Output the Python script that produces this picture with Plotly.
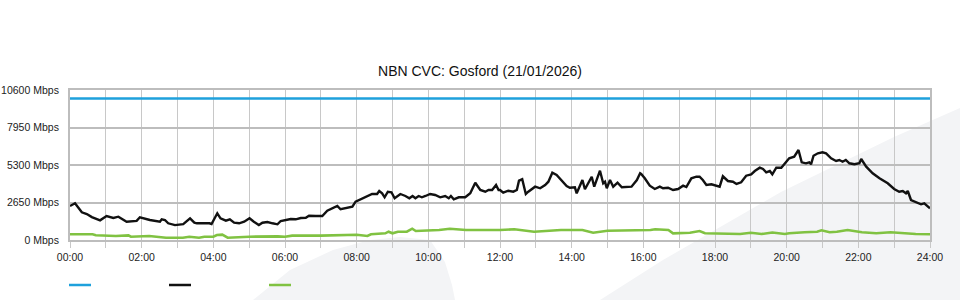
import plotly.graph_objects as go

# ---- data (hours of day, Mbps) ----
capacity_hours = [0, 24]
capacity_mbps = [10000, 10000]

black_hours = [0.00, 0.14, 0.33, 0.47, 0.61, 0.84, 1.02, 1.21, 1.35, 1.58, 1.86, 1.95, 2.23, 2.35, 2.51,
               2.56, 2.65, 2.74, 2.93, 3.16, 3.35, 3.47, 3.54, 3.89, 3.95,
               4.11, 4.20, 4.35, 4.46, 4.58, 4.72, 4.86, 5.01, 5.13, 5.27, 5.37, 5.51, 5.65, 5.79, 5.88,
               6.02, 6.16, 6.30, 6.44, 6.58, 6.67, 6.86, 7.04, 7.18, 7.32, 7.46, 7.55, 7.69, 7.88, 7.97,
               8.07, 8.29, 8.43, 8.57, 8.63, 8.71, 8.78, 8.87, 8.97, 9.06, 9.22, 9.36, 9.47, 9.56, 9.64,
               9.73, 9.82, 9.92, 10.05, 10.19, 10.33, 10.47, 10.57, 10.63, 10.71, 10.85, 11.03, 11.17,
               11.31, 11.45, 11.59, 11.68, 11.78, 11.89, 11.96, 12.00, 12.09, 12.23, 12.37, 12.47, 12.53,
               12.62, 12.72, 12.79, 12.98, 13.12, 13.26, 13.35, 13.46, 13.58, 13.72, 13.86, 13.95, 14.09,
               14.14, 14.30, 14.37, 14.56, 14.63, 14.79, 14.88, 14.93, 14.98, 15.07, 15.16, 15.28, 15.40,
               15.58, 15.67, 15.82, 15.91, 15.94, 16.04, 16.18, 16.32, 16.46, 16.55, 16.69, 16.83, 16.97,
               17.11, 17.20, 17.34, 17.48, 17.57, 17.66, 17.76, 17.90, 18.04, 18.13, 18.22, 18.36, 18.50,
               18.60, 18.73, 18.87, 19.01, 19.11, 19.25, 19.34, 19.43, 19.53, 19.60, 19.71, 19.85, 19.99,
               20.07, 20.21, 20.33, 20.42, 20.54, 20.63, 20.68, 20.75, 20.87, 21.00, 21.10, 21.24, 21.38,
               21.47, 21.56, 21.65, 21.75, 21.89, 22.03, 22.08, 22.22, 22.40, 22.59, 22.82, 23.00, 23.14,
               23.24, 23.33, 23.38, 23.47, 23.61, 23.75, 23.84, 23.94, 24.00]
black_mbps = [2403, 2594, 1960, 1837, 1620, 1390, 1696, 1560, 1647, 1293, 1350, 1604, 1413, 1343, 1293,
              1463, 1413, 1180, 1050, 1120, 1534, 1223, 1180, 1180, 1131,
              1887, 1534, 1364, 1463, 1223, 1180, 1293, 1534, 1293, 1060, 1223, 1272, 1180, 1109, 1343,
              1413, 1484, 1463, 1555, 1576, 1717, 1696, 1696, 2071, 2240, 2403, 2170, 2240, 2353, 2707,
              2827, 3109, 3251, 3251, 3463, 3300, 3018, 3413, 3371, 2947, 3251, 3109, 2947, 3109, 2947,
              3109, 3018, 3109, 3251, 3180, 3018, 3109, 2947, 3109, 2876, 3018, 3018, 3300,
              4049, 3533, 3413, 3533, 3533, 3887, 3533, 3533, 3343, 3484, 3413, 3533, 4191,
              4290, 3251, 3413, 3767, 3654, 3887, 4120, 4756, 4593, 4240, 3816, 3696, 3724,
              3300, 4240, 3583, 4473, 3767, 4897, 4007, 4120, 3654, 4240, 3767, 4049, 3724,
              3724, 3767, 4240, 4714, 4664, 4360, 3837, 3604, 3767, 3654, 3696, 3533, 3604,
              3837, 3745, 4360, 4473, 4473, 4240, 3887, 3936, 3837, 3767, 4502, 4169, 4120,
              3957, 4078, 4544, 4643, 4876, 5109, 5017, 4784, 4876, 4643, 5109, 5109, 5533,
              5774, 5887, 6360, 5491, 5420, 5491, 5350, 5957, 6127, 6198, 6127, 5774, 5583,
              5654, 5533, 5654, 5420, 5350, 5420, 5724, 5180, 4714, 4360, 4007, 3604, 3413,
              3463, 3300, 3463, 2827, 2664, 2523, 2594, 2353, 2240]

green_hours = [0.00, 0.63, 0.72, 1.28, 1.63, 1.70, 2.21, 2.35, 2.68, 3.15, 3.33, 3.60, 3.75, 4.00,
               4.10, 4.25, 4.40, 5.00, 5.30, 5.50, 5.80, 6.00, 6.20, 7.00, 7.60, 8.00, 8.30, 8.40,
               8.80, 8.89, 9.00, 9.15, 9.40, 9.55, 9.65, 10.00, 10.30, 10.60, 10.90, 11.05, 12.00,
               12.40, 12.95, 13.50, 13.70, 14.30, 14.60, 15.00, 15.50, 16.00, 16.20, 16.33, 16.70,
               16.83, 17.30, 17.57, 17.72, 18.70, 19.00, 19.30, 19.60, 19.95, 20.07, 20.50, 20.85,
               20.97, 21.20, 21.40, 21.70, 22.10, 22.50, 22.90, 23.20, 23.60, 24.00]
green_mbps = [403, 403, 330, 283, 330, 233, 283, 233, 163, 163, 233, 163, 233, 233,
              353, 375, 163, 233, 259, 233, 259, 233, 306, 306, 353, 375, 283, 403,
              473, 587, 473, 587, 587, 798, 636, 657, 707, 798, 756, 707, 707,
              756, 587, 657, 707, 707, 516, 657, 657, 680, 707, 756, 707,
              473, 516, 636, 473, 424, 516, 424, 530, 424, 473, 544, 587,
              685, 544, 587, 707, 544, 473, 544, 473, 424, 403]

y_ticks = [0, 2650, 5300, 7950, 10600]
x_ticks = list(range(0, 25, 2))

BLUE = "#1ea1dc"
BLACK = "#111111"
GREEN = "#80c242"
FONT = "Liberation Sans, Arial, sans-serif"

# plot area in pixels
L, R, T, B = 70, 930, 90, 240


def paper(px, py):
    return (px - L) / (R - L), (B - py) / (B - T)


def path(points):
    s = ""
    for i, (px, py) in enumerate(points):
        x, y = paper(px, py)
        s += ("M" if i == 0 else "L") + f"{x:.4f},{y:.4f} "
    return s + "Z"


fig = go.Figure()
fig.add_trace(go.Scatter(x=capacity_hours, y=capacity_mbps, mode="lines",
                         line=dict(color=BLUE, width=2.5), hoverinfo="skip"))
fig.add_trace(go.Scatter(x=black_hours, y=black_mbps, mode="lines",
                         line=dict(color=BLACK, width=2.4), hoverinfo="skip"))
fig.add_trace(go.Scatter(x=green_hours, y=green_mbps, mode="lines",
                         line=dict(color=GREEN, width=2.6, shape="linear"), hoverinfo="skip"))

shapes = []
# faint decorative background swooshes
band = [(600, 300), (663, 260), (781, 192), (894, 137), (960, 108), (960, 300)]
hill = [(253, 300), (290, 270), (333, 250), (370, 240), (400, 237), (430, 240),
        (445, 262), (452, 285), (455, 300)]
for pts in (band, hill):
    shapes.append(dict(type="path", xref="paper", yref="paper", path=path(pts),
                       fillcolor="#f3f4f6", line=dict(width=0), layer="below"))

# legend glyphs (no labels)
for i, c in enumerate([BLUE, BLACK, GREEN]):
    x0, y0 = paper(69 + 100 * i, 285)
    x1, _ = paper(91 + 100 * i, 285)
    shapes.append(dict(type="line", xref="paper", yref="paper", x0=x0, x1=x1, y0=y0, y1=y0,
                       line=dict(color=c, width=2.5)))

fig.update_layout(
    width=960, height=300,
    margin=dict(l=L, r=960 - R, t=T, b=300 - B, autoexpand=False),
    paper_bgcolor="white", plot_bgcolor="rgba(0,0,0,0)",
    showlegend=False,
    font=dict(family=FONT, size=10.5, color="#222"),
    title=dict(text="NBN CVC: Gosford (21/01/2026)", x=0.5, xanchor="center",
               y=1 - 71 / 300, yanchor="middle", yref="container",
               font=dict(family=FONT, size=14, color="#111")),
    shapes=shapes,
)
fig.update_xaxes(
    range=[0, 24], tickmode="array", tickvals=x_ticks,
    ticktext=[f"{h:02d}:00" for h in x_ticks],
    showgrid=True, gridcolor="#c8c8c8", gridwidth=1,
    ticks="outside", ticklen=6, tickcolor="#c8c8c8", tickwidth=1,
    minor=dict(dtick=1, tick0=0, showgrid=True, gridcolor="#c8c8c8", gridwidth=1,
               ticks="outside", ticklen=6, tickcolor="#c8c8c8"),
    showline=True, linecolor="#bdbdbd", linewidth=2, mirror=True,
    zeroline=False, tickfont=dict(size=10.5, color="#222"), automargin=False,
)
fig.update_yaxes(
    range=[0, 10600], tickmode="array", tickvals=y_ticks,
    ticktext=[f"{v} Mbps" for v in y_ticks],
    showgrid=True, gridcolor="#bdbdbd", gridwidth=2,
    ticks="outside", ticklen=7, tickcolor="rgba(0,0,0,0)",
    showline=True, linecolor="#bdbdbd", linewidth=2, mirror=True,
    zeroline=False, tickfont=dict(size=10.5, color="#222"), automargin=False,
)

fig.write_html("out.html")
